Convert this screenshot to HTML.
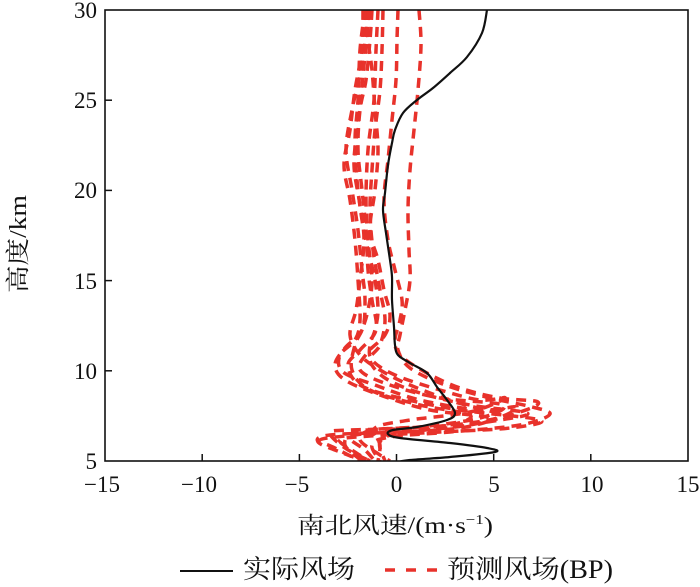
<!DOCTYPE html>
<html><head><meta charset="utf-8"><style>
html,body{margin:0;padding:0;background:#fff;}
svg{display:block;}
.t{font-family:"Liberation Serif","Noto Serif CJK SC",serif;font-size:23px;fill:#111;}
.c{font-family:"Liberation Serif","Noto Serif CJK SC",serif;fill:#111;}
</style></head><body>
<svg width="700" height="587" viewBox="0 0 700 587" xmlns="http://www.w3.org/2000/svg">
<defs><clipPath id="pa"><rect x="105" y="10" width="583" height="451"/></clipPath></defs>
<g clip-path="url(#pa)" fill="none" stroke="#e8322b" stroke-width="3.5" stroke-dasharray="10 7">
<polyline class="s" points="419,10 421,45 418,90 414,130 410,170 408,210 409,250 410,280 405,310 400,335 398,350 410,368 445,385 490,398 528,406 550,414 520,425 450,432 390,437 372,445 380,461"/>
<polyline class="s" points="398,10 397,40 396,80 392,120 388,160 384,200 388,240 395,270 402,300 400,320 395,340 400,355 425,372 460,388 500,398 538,402 520,412 470,425 400,433 380,442 385,461"/>
<polyline class="s" points="383,10 382,50 380,90 375,130 372,170 370,210 373,250 380,290 385,320 380,345 370,360 385,378 420,393 470,405 527,413 500,420 440,428 380,432 350,437 365,450 375,461"/>
<polyline class="s" points="372,10 370,40 366,80 360,110 358,150 362,190 366,230 368,270 372,300 376,330 360,350 348,365 360,385 400,398 460,410 540,420 510,428 440,432 370,436 340,440 355,452 370,461"/>
<polyline class="s" points="368,10 365,40 360,75 352,110 346,150 352,190 358,230 362,270 365,300 362,330 345,348 335,365 345,380 380,395 430,410 490,418 460,428 400,432 330,435 318,442 340,452 365,461"/>
<polyline class="s" points="363,10 362,50 355,90 350,130 344,165 350,200 355,240 358,280 360,320 355,340 340,355 343,372 375,385 420,400 480,410 517,407 490,420 420,428 350,430 330,433 345,448 370,461"/>
<polyline class="s" points="366,10 368,40 372,70 375,110 378,150 375,190 370,230 378,260 384,290 390,315 385,335 368,352 360,370 390,385 440,398 503,405 480,418 420,427 372,430 360,440 380,455 390,461"/>
<polyline class="s" points="378,10 376,50 374,100 368,150 366,200 368,240 372,280 368,310 362,330 355,345 352,370 370,390 420,405 470,415 450,425 400,428 355,432 345,445 362,461"/>
<polyline class="s" points="365,10 360,50 358,100 355,140 357,180 362,220 368,250 375,280 378,310 375,330 370,345 372,360 395,375 440,390 480,400 505,398 470,412 410,420 375,428 380,445 378,461"/>
<polyline class="s" points="369,10 366,45 362,85 358,125 354,165 360,205 364,240 360,280 356,310 350,335 360,355 380,370 410,385 455,402 500,415 470,423 400,430 345,436 320,440 335,448 360,461"/>
</g>
<g clip-path="url(#pa)" fill="none" stroke="#111" stroke-width="2.2">
<polyline class="s" points="487,10 482,33 467,57 450,73 433,88 417,100 403,113 395,130 392,143 388,165 385,193 383,210 386,233 390,260 392,277 392,300 394,327 395,345 398,355 410,363 427,373 437,387 447,400 455,413 447,420 417,427 393,430 388,434 400,438 450,443 487,448 495,452 450,457 410,460 398,462"/>
</g>
<rect x="105" y="10" width="583" height="451" fill="none" stroke="#111" stroke-width="1.6"/>
<g stroke="#111" stroke-width="1.5">
<line x1="202.2" y1="461" x2="202.2" y2="454"/>
<line x1="299.4" y1="461" x2="299.4" y2="454"/>
<line x1="396.5" y1="461" x2="396.5" y2="454"/>
<line x1="493.7" y1="461" x2="493.7" y2="454"/>
<line x1="590.8" y1="461" x2="590.8" y2="454"/>
<line x1="105" y1="370.8" x2="112" y2="370.8"/>
<line x1="105" y1="280.6" x2="112" y2="280.6"/>
<line x1="105" y1="190.4" x2="112" y2="190.4"/>
<line x1="105" y1="100.2" x2="112" y2="100.2"/>
</g>
<g class="t" text-anchor="end">
<text x="97" y="469">5</text>
<text x="97" y="379">10</text>
<text x="97" y="289">15</text>
<text x="97" y="198">20</text>
<text x="97" y="108">25</text>
<text x="97" y="18">30</text>
</g>
<g class="t" text-anchor="middle">
<text x="102" y="492">−15</text>
<text x="199" y="492">−10</text>
<text x="297" y="492">−5</text>
<text x="396.5" y="492">0</text>
<text x="494" y="492">5</text>
<text x="592" y="492">10</text>
<text x="688" y="492">15</text>
</g>
<text class="c" x="297" y="533" font-size="23" textLength="196" lengthAdjust="spacingAndGlyphs">南北风速/(m·s<tspan font-size="14" dy="-9">−1</tspan><tspan dy="9">)</tspan></text>
<text class="c" transform="translate(26,244) rotate(-90)" x="0" y="0" font-size="24" text-anchor="middle" textLength="98" lengthAdjust="spacingAndGlyphs">高度/km</text>
<line x1="180" y1="571" x2="233" y2="571" stroke="#111" stroke-width="2"/>
<text class="c" x="243" y="578" font-size="26" textLength="112" lengthAdjust="spacingAndGlyphs">实际风场</text>
<line x1="385" y1="570" x2="440" y2="570" stroke="#e8322b" stroke-width="3.5" stroke-dasharray="10 11"/>
<text class="c" x="447" y="578" font-size="26" textLength="166" lengthAdjust="spacingAndGlyphs">预测风场(BP)</text>
</svg>
<script>
document.querySelectorAll('polyline.s').forEach(function(pl){
 var p=pl.getAttribute('points').trim().split(/\s+/).map(function(s){return s.split(',').map(Number);});
 var d='M'+p[0][0]+','+p[0][1];
 for(var i=0;i<p.length-1;i++){
  var p0=p[i-1]||p[i],p1=p[i],p2=p[i+1],p3=p[i+2]||p2;
  var c1=[p1[0]+(p2[0]-p0[0])/6,p1[1]+(p2[1]-p0[1])/6];
  var c2=[p2[0]-(p3[0]-p1[0])/6,p2[1]-(p3[1]-p1[1])/6];
  d+=' C'+c1[0].toFixed(2)+','+c1[1].toFixed(2)+' '+c2[0].toFixed(2)+','+c2[1].toFixed(2)+' '+p2[0]+','+p2[1];
 }
 var path=document.createElementNS('http://www.w3.org/2000/svg','path');
 for(var j=0;j<pl.attributes.length;j++){var a=pl.attributes[j];if(a.name!=='points')path.setAttribute(a.name,a.value);}
 path.setAttribute('d',d);
 pl.parentNode.replaceChild(path,pl);
});
</script>
</body></html>
